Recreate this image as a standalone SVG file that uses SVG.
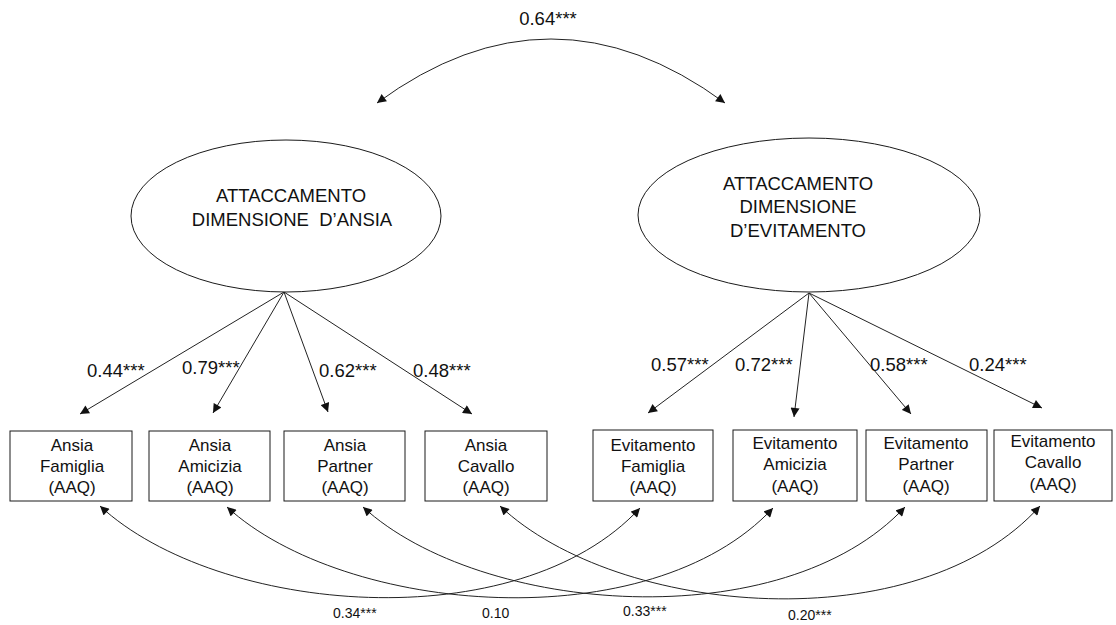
<svg xmlns="http://www.w3.org/2000/svg" width="1116" height="625" viewBox="0 0 1116 625">
<style>
.bg{fill:#ffffff}
.node{fill:#ffffff;stroke:#1a1a1a;stroke-width:1}
.lat{font-family:"Liberation Sans",Arial,sans-serif;font-size:18.5px;fill:#111;text-anchor:middle}
.obs{font-family:"Liberation Sans",Arial,sans-serif;font-size:17px;fill:#111;text-anchor:middle}
.lbl{font-family:"Liberation Sans",Arial,sans-serif;font-size:18.5px;fill:#111}
.sm{font-family:"Liberation Sans",Arial,sans-serif;font-size:14px;fill:#111}
.edge{fill:none;stroke:#222;stroke-width:1}
</style>
<defs>
<marker id="ah" viewBox="0 0 10 10" refX="10" refY="5" markerWidth="10" markerHeight="9" markerUnits="userSpaceOnUse" orient="auto-start-reverse">
<path d="M0,0 L10,5 L0,10 z" fill="#111"/>
</marker>
</defs>
<rect class="bg" x="0" y="0" width="1116" height="625"/>

<g id="connectors">
<path class="edge" d="M377,103 Q551,-25 725,103" marker-start="url(#ah)" marker-end="url(#ah)"/>
<line class="edge" x1="284" y1="292" x2="80" y2="414" marker-end="url(#ah)"/>
<line class="edge" x1="284" y1="292" x2="213" y2="413" marker-end="url(#ah)"/>
<line class="edge" x1="284" y1="292" x2="328" y2="412" marker-end="url(#ah)"/>
<line class="edge" x1="284" y1="292" x2="472" y2="414" marker-end="url(#ah)"/>
<line class="edge" x1="809" y1="293" x2="648" y2="413" marker-end="url(#ah)"/>
<line class="edge" x1="809" y1="293" x2="794" y2="417" marker-end="url(#ah)"/>
<line class="edge" x1="809" y1="293" x2="911" y2="414" marker-end="url(#ah)"/>
<line class="edge" x1="809" y1="293" x2="1042" y2="408" marker-end="url(#ah)"/>
<path class="edge" d="M100,506 C218,615 518,640 640,508" marker-start="url(#ah)" marker-end="url(#ah)"/>
<path class="edge" d="M227,507 C345,615 650,640 773,508" marker-start="url(#ah)" marker-end="url(#ah)"/>
<path class="edge" d="M363,507 C481,615 783,638 905,507" marker-start="url(#ah)" marker-end="url(#ah)"/>
<path class="edge" d="M500,506 C618,617 918,642 1040,506" marker-start="url(#ah)" marker-end="url(#ah)"/>
</g>

<g id="labels">
<text class="lbl" x="548" y="25" text-anchor="middle">0.64***</text>
<text class="lbl" x="87" y="377">0.44***</text>
<text class="lbl" x="182" y="374">0.79***</text>
<text class="lbl" x="319" y="377">0.62***</text>
<text class="lbl" x="413" y="377">0.48***</text>
<text class="lbl" x="651" y="371">0.57***</text>
<text class="lbl" x="735" y="371">0.72***</text>
<text class="lbl" x="870" y="371">0.58***</text>
<text class="lbl" x="969" y="371">0.24***</text>
<text class="sm" x="333" y="618">0.34***</text>
<text class="sm" x="482" y="618">0.10</text>
<text class="sm" x="623" y="616">0.33***</text>
<text class="sm" x="788" y="620">0.20***</text>
</g>

<g id="latent-ansia">
<ellipse class="node" cx="286" cy="216" rx="155" ry="76"/>
<text class="lat" x="291" y="202">ATTACCAMENTO</text>
<text class="lat" x="292" y="226" xml:space="preserve">DIMENSIONE  D’ANSIA</text>
</g>
<g id="latent-evitamento">
<ellipse class="node" cx="809" cy="215" rx="171" ry="77"/>
<text class="lat" x="798" y="190">ATTACCAMENTO</text>
<text class="lat" x="798" y="213">DIMENSIONE</text>
<text class="lat" x="798" y="237">D’EVITAMENTO</text>
</g>

<g id="ansia-famiglia">
<rect class="node" x="10" y="431" width="122" height="70"/>
<text class="obs" x="72" y="451">Ansia</text>
<text class="obs" x="72" y="472">Famiglia</text>
<text class="obs" x="72" y="493">(AAQ)</text>
</g>
<g id="ansia-amicizia">
<rect class="node" x="149" y="431" width="121" height="70"/>
<text class="obs" x="210" y="451">Ansia</text>
<text class="obs" x="210" y="472">Amicizia</text>
<text class="obs" x="210" y="493">(AAQ)</text>
</g>
<g id="ansia-partner">
<rect class="node" x="284" y="431" width="121" height="70"/>
<text class="obs" x="345" y="451">Ansia</text>
<text class="obs" x="345" y="472">Partner</text>
<text class="obs" x="345" y="493">(AAQ)</text>
</g>
<g id="ansia-cavallo">
<rect class="node" x="425" y="431" width="122" height="70"/>
<text class="obs" x="486" y="451">Ansia</text>
<text class="obs" x="486" y="472">Cavallo</text>
<text class="obs" x="486" y="493">(AAQ)</text>
</g>
<g id="evitamento-famiglia">
<rect class="node" x="593" y="430" width="120" height="71"/>
<text class="obs" x="653" y="451">Evitamento</text>
<text class="obs" x="653" y="472">Famiglia</text>
<text class="obs" x="653" y="493">(AAQ)</text>
</g>
<g id="evitamento-amicizia">
<rect class="node" x="733" y="430" width="124" height="71"/>
<text class="obs" x="795" y="449">Evitamento</text>
<text class="obs" x="795" y="470">Amicizia</text>
<text class="obs" x="795" y="492">(AAQ)</text>
</g>
<g id="evitamento-partner">
<rect class="node" x="866" y="430" width="121" height="71"/>
<text class="obs" x="926" y="449">Evitamento</text>
<text class="obs" x="926" y="470">Partner</text>
<text class="obs" x="926" y="492">(AAQ)</text>
</g>
<g id="evitamento-cavallo">
<rect class="node" x="994" y="430" width="118" height="71"/>
<text class="obs" x="1053" y="447">Evitamento</text>
<text class="obs" x="1053" y="468">Cavallo</text>
<text class="obs" x="1053" y="490">(AAQ)</text>
</g>
</svg>
